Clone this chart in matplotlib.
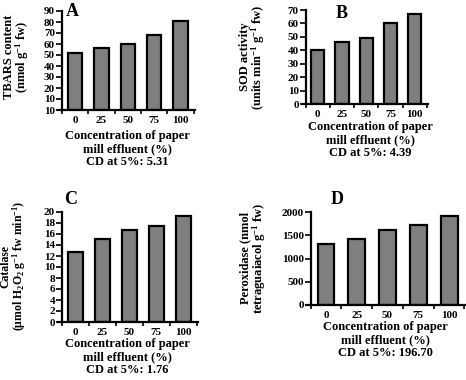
import matplotlib
matplotlib.use('Agg')
import matplotlib.pyplot as plt
import numpy as np

plt.rcParams['font.family'] = ['Liberation Serif', 'DejaVu Serif']
plt.rcParams['font.weight'] = 'bold'
plt.rcParams['mathtext.fontset'] = 'custom'
plt.rcParams['mathtext.rm'] = 'Liberation Serif:bold'
plt.rcParams['mathtext.it'] = 'Liberation Serif:bold'
plt.rcParams['mathtext.bf'] = 'Liberation Serif:bold'

# data
concentrations = ['0', '25', '50', '75', '100']
tbars = [52, 56, 60, 68.5, 80.5]
sod = [40.5, 46, 49, 60.5, 67]
catalase = [12.7, 15.1, 16.7, 17.5, 19.2]
peroxidase = [1320, 1420, 1620, 1720, 1910]

tbars_ticks = [0, 10, 20, 30, 40, 50, 60, 70, 80, 90]
tbars_ticklabels = ['10', '10', '20', '30', '40', '50', '60', '70', '80', '90']
sod_ticks = [0, 10, 20, 30, 40, 50, 60, 70]
catalase_ticks = [0, 2, 4, 6, 8, 10, 12, 14, 16, 18, 20]
peroxidase_ticks = [0, 500, 1000, 1500, 2000]

W, H = 466, 380
fig = plt.figure(figsize=(W / 100, H / 100), dpi=100)


def px_axes(left, top, right, bottom):
    """Axes from pixel edges (origin top-left)."""
    return fig.add_axes([left / W, 1 - bottom / H, (right - left) / W, (bottom - top) / H])


def draw_panel(ax, values, ticks, ticklabels=None):
    x = np.arange(len(concentrations))
    ax.bar(x, values, width=0.55, color='#7f7f7f', edgecolor='black', linewidth=1.6)
    ax.set_xlim(-0.65, 4.55)
    ax.set_ylim(ticks[0], ticks[-1])
    ax.spines['left'].set_position(('data', -0.5))
    ax.spines['top'].set_visible(False)
    ax.spines['right'].set_visible(False)
    for s in ('left', 'bottom'):
        ax.spines[s].set_linewidth(1.6)
    ax.set_yticks(ticks)
    if ticklabels is not None:
        ax.set_yticklabels(ticklabels)
    ax.set_xticks(x)
    ax.set_xticklabels(concentrations)
    ax.set_xticks(np.arange(-0.5, 5.0, 1.0), minor=True)
    ax.tick_params(axis='x', which='major', length=0, pad=4, labelsize=8)
    ax.tick_params(axis='x', which='minor', length=3, width=1.2, direction='out')
    ax.tick_params(axis='y', length=4, width=1.2, pad=1, labelsize=8)
    for lab in ax.get_xticklabels() + ax.get_yticklabels():
        lab.set_fontweight('bold')


axA = px_axes(58, 11, 195, 110)
draw_panel(axA, tbars, tbars_ticks, tbars_ticklabels)
axB = px_axes(302, 10, 428, 104)
draw_panel(axB, sod, sod_ticks)
axC = px_axes(58, 212, 198, 322)
draw_panel(axC, catalase, catalase_ticks)
axD = px_axes(306, 212, 466, 305)
draw_panel(axD, peroxidase, peroxidase_ticks)

# panel letters
for letter, (px, py) in zip('ABCD', [(72, 12), (342, 13), (71, 199), (337, 199)]):
    fig.text(px / W, 1 - py / H, letter, fontsize=13, fontweight='bold', ha='center', va='center')

# y labels
ylabels = [
    ('TBARS content\n(nmol g$^{-1}$ fw)', 17, 57, 9),
    ('SOD activity\n(units min$^{-1}$ g$^{-1}$ fw)', 253, 57, 9),
    ('Catalase\n($\\mu$mol H$_2$O$_2$ g$^{-1}$ fw min$^{-1}$)', 14, 266, 8.5),
    ('Peroxidase (nmol\ntetraguaiacol g$^{-1}$ fw)', 254, 258, 9),
]
for txt, px, py, fs in ylabels:
    fig.text(px / W, 1 - py / H, txt, rotation=90, fontsize=fs, fontweight='bold',
             ha='center', va='center', multialignment='center', linespacing=0.95)

# x labels
xlabels = [
    ('Concentration of paper\nmill effluent (%)\nCD at 5%: 5.31', 127, 130),
    ('Concentration of paper\nmill effluent (%)\nCD at 5%: 4.39', 370, 121),
    ('Concentration of paper\nmill effluent (%)\nCD at 5%: 1.76', 127, 338),
    ('Concentration of paper\nmill effluent (%)\nCD at 5%: 196.70', 385, 321),
]
for txt, px, py in xlabels:
    fig.text(px / W, 1 - py / H, txt, fontsize=9, fontweight='bold',
             ha='center', va='top', multialignment='center', linespacing=1.1)

fig.savefig('out.png', dpi=100)
